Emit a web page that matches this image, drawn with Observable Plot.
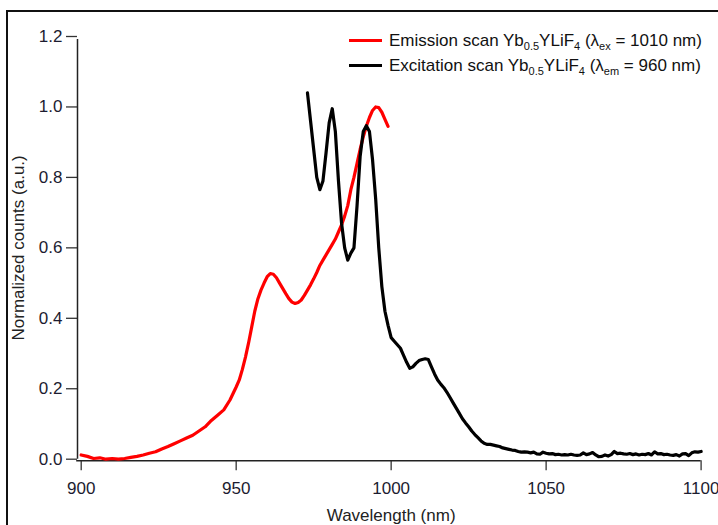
<!DOCTYPE html>
<html>
<head>
<meta charset="utf-8">
<script src="https://cdn.jsdelivr.net/npm/d3@7"></script>
<script src="https://cdn.jsdelivr.net/npm/@observablehq/plot@0.6"></script>
<style>
  html, body { margin: 0; padding: 0; background: #fff; }
  #wrap { position: relative; width: 718px; height: 525px; overflow: hidden; font-family: "Liberation Sans", Arial, sans-serif; }
  #frame { position: absolute; left: 6px; top: 10px; width: 800px; height: 600px; border-left: 2px solid #111; border-top: 2px solid #111; pointer-events: none; }
  #legend { position: absolute; left: 349px; top: 28px; font-size: 17px; color: #111; }
  .row { position: relative; height: 25px; line-height: 25px; white-space: nowrap; }
  .sw { position: absolute; left: 0; top: 11px; width: 33px; height: 3px; }
  .lab { position: absolute; left: 40px; top: 0; }
  sub { font-size: 11px; vertical-align: -4px; line-height: 0; }
</style>
</head>
<body>
<div id="wrap">
  <div id="chart"></div>
  <div id="frame"></div>
  <div id="legend"></div>
</div>
<script>
// ---- Data ----
const emissionWavelength = [900,902,904,906,908,910,912,914,916,918,920,922,924,926,928,930,932,934,936,938,940,942,944,946,948,950,951,952,953,954,955,956,957,958,959,960,961,962,963,964,965,966,967,968,969,970,971,972,973,974,975,976,977,978,979,980,981,982,983,984,985,986,987,988,989,990,991,992,993,994,995,996,997,998,999];
const emissionCounts = [0.012,0.008,0.002,0.004,0.0,0.002,0.0,0.002,0.005,0.008,0.012,0.017,0.021,0.029,0.036,0.044,0.052,0.060,0.068,0.080,0.092,0.110,0.125,0.140,0.168,0.205,0.225,0.255,0.290,0.330,0.375,0.420,0.455,0.480,0.500,0.518,0.527,0.525,0.515,0.500,0.485,0.470,0.456,0.446,0.442,0.445,0.452,0.465,0.480,0.495,0.512,0.530,0.550,0.565,0.580,0.595,0.610,0.625,0.645,0.665,0.690,0.720,0.765,0.800,0.840,0.880,0.915,0.945,0.970,0.990,1.000,0.998,0.985,0.965,0.945];

const excitationWavelength = [973,974,975,976,977,978,979,980,981,982,983,984,985,986,987,988,989,990,991,992,993,994,995,996,997,998,999,1000,1001,1002,1003,1004,1005,1006,1007,1008,1009,1010,1011,1012,1013,1014,1015,1016,1017,1018,1019,1020,1021,1022,1023,1024,1025,1026,1027,1028,1029,1030,1031,1032,1033,1034,1035,1036,1037,1038,1039,1040,1041,1042,1043,1044,1045,1046,1047,1048,1049,1050,1051,1052,1053,1054,1055,1056,1057,1058,1059,1060,1061,1062,1063,1064,1065,1066,1067,1068,1069,1070,1071,1072,1073,1074,1075,1076,1077,1078,1079,1080,1081,1082,1083,1084,1085,1086,1087,1088,1089,1090,1091,1092,1093,1094,1095,1096,1097,1098,1099,1100];
const excitationCounts = [1.040,0.960,0.880,0.800,0.765,0.790,0.870,0.955,0.995,0.930,0.790,0.670,0.600,0.565,0.585,0.600,0.720,0.860,0.930,0.947,0.930,0.850,0.740,0.600,0.490,0.420,0.380,0.345,0.335,0.325,0.315,0.295,0.275,0.258,0.262,0.272,0.280,0.283,0.285,0.283,0.262,0.242,0.225,0.213,0.203,0.190,0.175,0.160,0.145,0.130,0.115,0.103,0.092,0.080,0.070,0.061,0.052,0.045,0.042,0.042,0.040,0.038,0.036,0.032,0.030,0.028,0.026,0.025,0.022,0.020,0.021,0.020,0.018,0.020,0.015,0.014,0.020,0.017,0.015,0.016,0.013,0.014,0.012,0.013,0.012,0.014,0.012,0.011,0.012,0.018,0.013,0.015,0.019,0.012,0.007,0.008,0.012,0.009,0.013,0.022,0.016,0.017,0.015,0.014,0.016,0.013,0.015,0.012,0.014,0.013,0.016,0.012,0.021,0.015,0.016,0.013,0.014,0.012,0.011,0.013,0.009,0.015,0.016,0.010,0.018,0.021,0.020,0.022];

const xTicks = [900, 950, 1000, 1050, 1100];
const yTicks = [0, 0.2, 0.4, 0.6, 0.8, 1.0, 1.2];
const xTitle = "Wavelength (nm)";
const yTitle = "Normalized counts (a.u.)";
const seriesNames = ["Emission", "Excitation"];
const seriesColors = ["#ff0000", "#000000"];
const legendHtml = [
  "Emission scan Yb<sub>0.5</sub>YLiF<sub>4</sub> (&lambda;<sub>ex</sub> = 1010 nm)",
  "Excitation scan Yb<sub>0.5</sub>YLiF<sub>4</sub> (&lambda;<sub>em</sub> = 960 nm)"
];

const emission = emissionWavelength.map((w, i) => ({w, v: emissionCounts[i]}));
const excitation = excitationWavelength.map((w, i) => ({w, v: excitationCounts[i]}));

const font = "Liberation Sans, Arial, sans-serif";

const chart = Plot.plot({
  width: 718,
  height: 525,
  marginLeft: 80.7,
  marginRight: 17.4,
  marginTop: 36,
  marginBottom: 66.3,
  style: {fontFamily: font, fontSize: "17px", color: "#222", background: "white", overflow: "visible"},
  x: {domain: [900, 1100]},
  y: {domain: [0, 1.2]},
  marks: [
    Plot.axisY({ticks: yTicks, tickFormat: d3.format(".1f"), tickSize: 11, tickPadding: 4, dx: -3.7, label: null, stroke: "#333", strokeWidth: 1.3, fill: "#1c1c30", fontSize: 17}),
    Plot.axisX({ticks: xTicks, tickFormat: d3.format("d"), tickSize: 10, tickPadding: 11, dy: 1.5, label: null, stroke: "#333", strokeWidth: 1.3, fill: "#1c1c30", fontSize: 17}),
    Plot.ruleX([900], {y1: 0, y2: 1.2, dx: -3.7, insetBottom: -3, stroke: "#222", strokeWidth: 1.5}),
    Plot.ruleY([0], {x1: 900, x2: 1100, dy: 1.5, insetLeft: -4.5, stroke: "#222", strokeWidth: 1.5}),
    Plot.text([xTitle], {frameAnchor: "bottom", dy: 56, text: d => d, fontSize: 17, fill: "#222", textAnchor: "middle", lineAnchor: "middle"}),
    Plot.text([yTitle], {frameAnchor: "left", dx: -62.5, rotate: -90, text: d => d, fontSize: 17, fill: "#222", textAnchor: "middle", lineAnchor: "middle"}),
    Plot.line(emission, {x: "w", y: "v", stroke: seriesColors[0], strokeWidth: 3.2, strokeLinejoin: "round"}),
    Plot.line(excitation, {x: "w", y: "v", stroke: seriesColors[1], strokeWidth: 3.2, strokeLinejoin: "round"})
  ]
});
document.getElementById("chart").appendChild(chart);

const legend = document.getElementById("legend");
seriesNames.forEach((name, i) => {
  const row = document.createElement("div");
  row.className = "row";
  row.innerHTML = `<div class="sw" style="background:${seriesColors[i]}"></div><div class="lab">${legendHtml[i]}</div>`;
  legend.appendChild(row);
});
</script>
</body>
</html>
